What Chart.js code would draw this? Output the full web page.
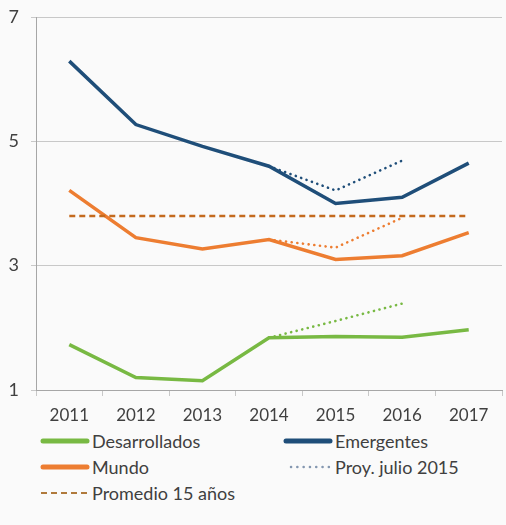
<!DOCTYPE html>
<html>
<head>
<meta charset="utf-8">
<script src="https://cdn.jsdelivr.net/npm/chart.js@4/dist/chart.umd.min.js"></script>
<style>
  body { margin: 0; background: #fafafa; font-family: Lato, 'Open Sans', sans-serif; }
  #wrap { position: relative; width: 506px; height: 525px; }
  #chart { display: block; }
  .legend { position: absolute; left: 40px; top: 430px; width: 466px; font-size: 18px; color: #404040; }
  .legend .item { position: absolute; display: flex; align-items: center; white-space: nowrap; height: 22px; }
  .legend svg { margin-right: 2px; }
</style>
</head>
<body>
<div id="wrap">
  <canvas id="chart" width="506" height="430"></canvas>
  <div class="legend" id="legend"></div>
</div>
<script>
// Datos
const YEARS = ['2011', '2012', '2013', '2014', '2015', '2016', '2017'];
const DESARROLLADOS = [1.73, 1.20, 1.15, 1.84, 1.86, 1.85, 1.97];
const EMERGENTES = [6.29, 5.27, 4.92, 4.60, 4.00, 4.10, 4.65];
const MUNDO = [4.21, 3.45, 3.27, 3.42, 3.10, 3.16, 3.53];
const PROMEDIO = [3.8, 3.8, 3.8, 3.8, 3.8, 3.8, 3.8];
// Proyección julio 2015 (desde 2014)
const PROY_EMERGENTES = [null, null, null, 4.60, 4.21, 4.69, null];
const PROY_MUNDO = [null, null, null, 3.42, 3.29, 3.77, null];
const PROY_DESARROLLADOS = [null, null, null, 1.84, 2.11, 2.39, null];
const Y_TICKS = [1, 3, 5, 7];

const COLORS = {
    green: '#78b943',
    blue: '#1f4e79',
    orange: '#ed7d31',
    dashed: '#c46a1e',
    grid: '#c8c8c8',
    text: '#404040'
};

const solid = (label, data, color) => ({
    label, data, borderColor: color, borderWidth: 3.5,
    pointRadius: 0, tension: 0, fill: false
});

// puntos redondos: trazo casi nulo + extremo redondo
const dotted = (data, color) => ({
    label: 'Proy. julio 2015', data, borderColor: color, borderWidth: 2.6,
    borderDash: [0.1, 5.6], borderCapStyle: 'round', pointRadius: 0, spanGaps: false
});

new Chart(document.getElementById('chart'), {
    type: 'line',
    data: {
        labels: YEARS,
        datasets: [
            { label: 'Promedio 15 años', data: PROMEDIO, borderColor: COLORS.dashed, borderWidth: 2.5,
              borderDash: [6, 4], pointRadius: 0 },
            dotted(PROY_EMERGENTES, COLORS.blue),
            dotted(PROY_MUNDO, COLORS.orange),
            dotted(PROY_DESARROLLADOS, COLORS.green),
            solid('Desarrollados', DESARROLLADOS, COLORS.green),
            solid('Mundo', MUNDO, COLORS.orange),
            solid('Emergentes', EMERGENTES, COLORS.blue)
        ]
    },
    options: {
        responsive: false,
        animation: false,
        layout: { padding: { top: 17, right: 4, left: 0, bottom: 0 } },
        plugins: { legend: { display: false }, tooltip: { enabled: false } },
        scales: {
            x: {
                offset: true,
                grid: { drawOnChartArea: false, drawTicks: true, tickLength: 6, color: COLORS.grid, offset: true },
                border: { color: '#a6a6a6' },
                ticks: { color: COLORS.text, font: { family: 'Lato', size: 17 }, padding: 9, maxRotation: 0 },
                afterFit: (scale) => { scale.height = 40; }
            },
            y: {
                min: 1, max: 7,
                afterBuildTicks: (scale) => { scale.ticks = Y_TICKS.map(v => ({ value: v })); },
                grid: { color: COLORS.grid, tickLength: 5 },
                border: { color: '#a6a6a6' },
                ticks: { color: COLORS.text, font: { family: 'Lato', size: 18 }, padding: 12 },
                afterFit: (scale) => {
                    scale.width = 36;
                    scale.paddingTop = 0;
                    scale.paddingBottom = 0;
                }
            }
        }
    }
});

// Leyenda en HTML (dos columnas como en el original)
const LEGEND = [
    { text: 'Desarrollados', color: COLORS.green, style: 'solid', x: 0, y: 0 },
    { text: 'Emergentes', color: COLORS.blue, style: 'solid', x: 243, y: 0 },
    { text: 'Mundo', color: COLORS.orange, style: 'solid', x: 0, y: 26 },
    { text: 'Proy. julio 2015', color: '#8497b0', style: 'dotted', x: 243, y: 26 },
    { text: 'Promedio 15 años', color: '#b07a3c', style: 'dashed', x: 0, y: 52 }
];
const swatch = (l) => {
    if (l.style === 'solid') {
        return `<svg width="50" height="10"><line x1="3" y1="5" x2="47" y2="5" stroke="${l.color}" stroke-width="5" stroke-linecap="round"/></svg>`;
    }
    if (l.style === 'dotted') {
        return `<svg width="50" height="10"><line x1="8" y1="5" x2="46" y2="5" stroke="${l.color}" stroke-width="2.5" stroke-dasharray="0.1 6.2" stroke-linecap="round"/></svg>`;
    }
    return `<svg width="50" height="10"><line x1="1" y1="5" x2="49" y2="5" stroke="${l.color}" stroke-width="2" stroke-dasharray="6 4"/></svg>`;
};
document.getElementById('legend').innerHTML = LEGEND.map(l =>
    `<div class="item" style="left:${l.x}px;top:${l.y}px">${swatch(l)}${l.text}</div>`
).join('');
</script>
</body>
</html>
